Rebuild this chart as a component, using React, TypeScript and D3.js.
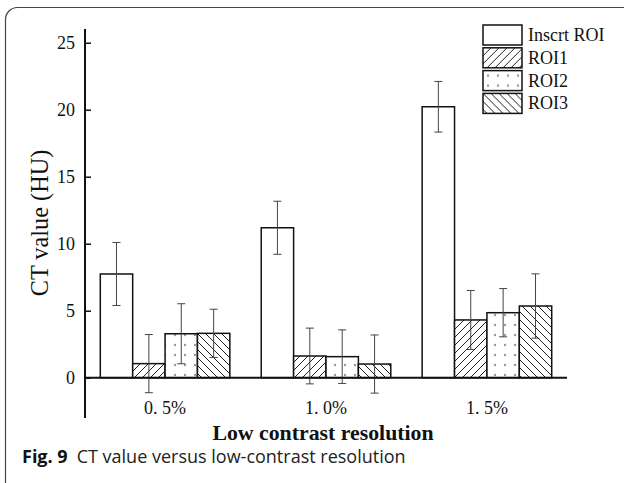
import React, { useEffect, useRef } from 'react';
import * as d3 from 'd3';

//CHART DATA
const groups = ['0. 5%', '1. 0%', '1. 5%'];
const seriesNames = ['Inscrt ROI', 'ROI1', 'ROI2', 'ROI3'];
const insertRoi = [7.74, 11.19, 20.22];
const roi1 = [1.05, 1.62, 4.31];
const roi2 = [3.28, 1.57, 4.85];
const roi3 = [3.31, 1.02, 5.35];
const insertErr = [2.35, 1.98, 1.89];
const roi1Err = [2.17, 2.08, 2.2];
const roi2Err = [2.24, 2.0, 1.8];
const roi3Err = [1.8, 2.17, 2.4];
const yTicks = [0, 5, 10, 15, 20, 25];

const App = () => {
    const ref = useRef<SVGSVGElement>(null);

    useEffect(() => {
        const svg = d3.select(ref.current);
        svg.selectAll('*').remove();

        const values = [insertRoi, roi1, roi2, roi3];
        const errors = [insertErr, roi1Err, roi2Err, roi3Err];
        const fills = ['#fff', 'url(#hatch-right)', 'url(#dots)', 'url(#hatch-left)'];

        //PATTERNS
        const defs = svg.append('defs');
        const hr = defs.append('pattern').attr('id', 'hatch-right')
            .attr('patternUnits', 'userSpaceOnUse').attr('width', 8).attr('height', 8);
        hr.append('rect').attr('width', 8).attr('height', 8).attr('fill', '#fff');
        hr.append('path').attr('d', 'M-2,2 L2,-2 M0,8 L8,0 M6,10 L10,6')
            .attr('stroke', '#222').attr('stroke-width', 1);
        const hl = defs.append('pattern').attr('id', 'hatch-left')
            .attr('patternUnits', 'userSpaceOnUse').attr('width', 8).attr('height', 8);
        hl.append('rect').attr('width', 8).attr('height', 8).attr('fill', '#fff');
        hl.append('path').attr('d', 'M-2,6 L2,10 M0,0 L8,8 M6,-2 L10,2')
            .attr('stroke', '#222').attr('stroke-width', 1);
        const dt = defs.append('pattern').attr('id', 'dots')
            .attr('patternUnits', 'userSpaceOnUse').attr('width', 10).attr('height', 10);
        dt.append('rect').attr('width', 10).attr('height', 10).attr('fill', '#fff');
        dt.append('circle').attr('cx', 5).attr('cy', 5).attr('r', 1.2).attr('fill', '#999');

        //FRAME
        svg.append('rect')
            .attr('x', 5.5).attr('y', 7.5).attr('width', 640).attr('height', 500)
            .attr('rx', 12).attr('fill', 'none').attr('stroke', '#444').attr('stroke-width', 1.2);

        //SCALES
        const x0 = d3.scaleBand().domain(groups).range([85, 567])
            .paddingInner(0.195).paddingOuter(0.095);
        const x1 = d3.scaleBand().domain(seriesNames).range([0, x0.bandwidth()]);
        const y = d3.scaleLinear().domain([0, 25]).range([377.7, 42.7]);

        //BARS
        seriesNames.forEach((s, si) => {
            svg.append('g').selectAll('rect')
                .data(values[si]).enter().append('rect')
                .attr('x', (d, i) => x0(groups[i]) + x1(s))
                .attr('y', d => y(d))
                .attr('width', x1.bandwidth())
                .attr('height', d => y(0) - y(d))
                .attr('fill', fills[si])
                .attr('stroke', '#111')
                .attr('stroke-width', 1.5);
        });

        //ERROR BARS
        seriesNames.forEach((s, si) => {
            const g = svg.append('g').attr('stroke', '#444').attr('stroke-width', 1);
            values[si].forEach((v, i) => {
                const cx = x0(groups[i]) + x1(s) + x1.bandwidth() / 2;
                const top = y(v + errors[si][i]);
                const bot = y(v - errors[si][i]);
                g.append('line').attr('x1', cx).attr('x2', cx).attr('y1', top).attr('y2', bot);
                g.append('line').attr('x1', cx - 4).attr('x2', cx + 4).attr('y1', top).attr('y2', top);
                g.append('line').attr('x1', cx - 4).attr('x2', cx + 4).attr('y1', bot).attr('y2', bot);
            });
        });

        //AXES
        svg.append('line').attr('x1', 85).attr('x2', 85).attr('y1', 29).attr('y2', 418)
            .attr('stroke', '#111').attr('stroke-width', 2);
        svg.append('line').attr('x1', 85).attr('x2', 567).attr('y1', y(0)).attr('y2', y(0))
            .attr('stroke', '#111').attr('stroke-width', 2);

        const yAxis = svg.append('g').attr('transform', 'translate(85,0)')
            .call(d3.axisRight(y).tickValues(yTicks).tickSize(6).tickFormat(d3.format('d')));
        yAxis.select('.domain').remove();
        yAxis.selectAll('line').attr('stroke', '#111').attr('stroke-width', 1.5);
        yAxis.selectAll('text').attr('x', -10).attr('text-anchor', 'end')
            .attr('font-family', 'Liberation Serif').attr('font-size', 18).attr('fill', '#111');

        svg.append('g').selectAll('text').data(groups).enter().append('text')
            .attr('x', d => x0(d) + x0.bandwidth() / 2)
            .attr('y', 414)
            .attr('text-anchor', 'middle')
            .attr('font-family', 'Liberation Serif').attr('font-size', 18).attr('fill', '#111')
            .attr('xml:space', 'preserve')
            .text(d => d);

        //AXIS TITLES
        svg.append('text')
            .attr('x', 323).attr('y', 440)
            .attr('text-anchor', 'middle')
            .attr('font-family', 'Liberation Serif').attr('font-weight', 'bold')
            .attr('font-size', 21.8).attr('fill', '#111')
            .text('Low contrast resolution');
        svg.append('text')
            .attr('transform', 'translate(48,223) rotate(-90)')
            .attr('text-anchor', 'middle')
            .attr('font-family', 'Liberation Serif')
            .attr('font-size', 24.3).attr('fill', '#111')
            .text('CT value (HU)');

        //LEGEND
        const legend = svg.append('g').selectAll('g').data(seriesNames).enter().append('g')
            .attr('transform', (d, i) => 'translate(483,' + (25 + i * 22.8) + ')');
        legend.append('rect').attr('width', 39).attr('height', 20)
            .attr('fill', (d, i) => fills[i]).attr('stroke', '#111').attr('stroke-width', 1.5);
        legend.append('text').attr('x', 45).attr('y', 16)
            .attr('font-family', 'Liberation Serif').attr('font-size', 18).attr('fill', '#111')
            .text(d => d);

        //CAPTION
        const cap = svg.append('text').attr('x', 22).attr('y', 463)
            .attr('font-family', 'Open Sans').attr('font-size', 18).attr('fill', '#222');
        cap.append('tspan').attr('font-weight', 'bold').attr('fill', '#111').text('Fig. 9');
        cap.append('tspan').attr('dx', 9).text('CT value versus low-contrast resolution');
    }, []);

    return (
        <svg ref={ref} width={624} height={483}
            style={{ position: 'absolute', left: 0, top: 0, background: '#fff' }} />
    );
};

export default App;
